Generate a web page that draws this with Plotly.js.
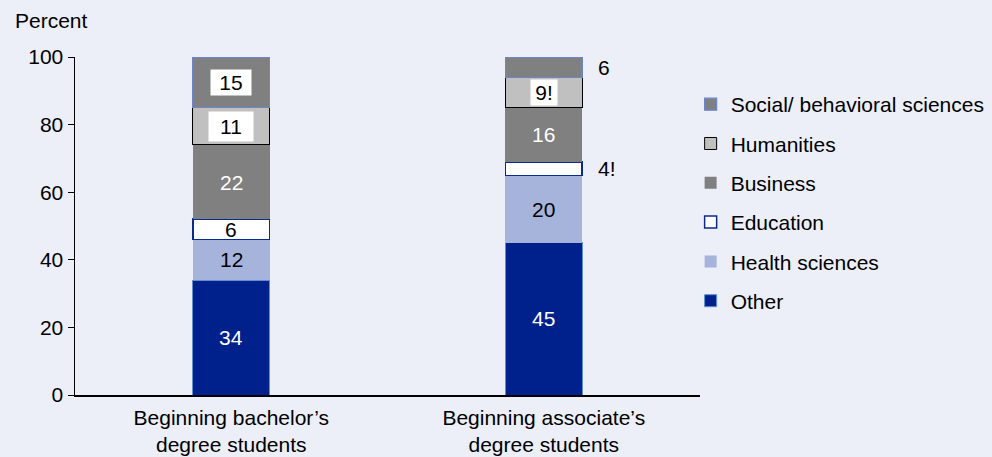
<!DOCTYPE html>
<html><head><meta charset="utf-8">
<script src="https://cdn.plot.ly/plotly-3.0.1.min.js"></script>
<style>html,body{margin:0;padding:0;background:#eceef8;}</style>
</head><body><div id="chart" style="width:992px;height:457px;"></div>
<script>
const categories = ["Beginning bachelor’s<br>degree students", "Beginning associate’s<br>degree students"];
const seriesNames = ["Other", "Health sciences", "Education", "Business", "Humanities", "Social/ behavioral sciences"];
const other = [34, 45];
const health = [12, 20];
const education = [6, 4];
const business = [22, 16];
const humanities = [11, 9];
const social = [15, 6];
const labelsOther = ["34", "45"];
const labelsHealth = ["12", "20"];
const labelsEducation = ["6", "4!"];
const labelsBusiness = ["22", "16"];
const labelsHumanities = ["11", "9!"];
const labelsSocial = ["15", "6"];
const yTicks = [0, 20, 40, 60, 80, 100];

const FONT = "Liberation Sans, Arial, sans-serif";
const FS = 21;
const seriesVals = [other, health, education, business, humanities, social];
const seriesLabels = [labelsOther, labelsHealth, labelsEducation, labelsBusiness, labelsHumanities, labelsSocial];
const fills = ["#00208c", "#a6b4dc", "#ffffff", "#808080", "#c0c0c0", "#808080"];
const lines = ["#5b8fd0", "#a6b4dc", "#0a2a8c", "#808080", "#000000", "#6b86cf"];
const lineW = [1, 0, 1.5, 0, 1, 1.2];
const textCol = ["#ffffff", "#000000", "#000000", "#ffffff", "#000000", "#000000"];

const traces = seriesVals.map((v, i) => ({
  type: "bar", x: [0, 1], y: v, name: seriesNames[i],
  marker: {color: fills[i], line: {color: lines[i], width: lineW[i]}},
  width: 0.246, legendgroup: "g" + i, legendrank: 10 - i, hoverinfo: "skip"
}));

const annotations = [];
const cum = [0, 0];
seriesVals.forEach((v, i) => {
  v.forEach((val, j) => {
    const mid = cum[j] + val / 2;
    const small = val < 5 || (i === 5 && j === 1);
    const boxed = (i === 4) || (i === 5 && j === 0);
    annotations.push({
      x: j, y: mid, xref: "x", yref: "y", text: seriesLabels[i][j], showarrow: false,
      xanchor: small ? "left" : "center", xshift: small ? 53 : 0,
      font: {color: small ? "#000000" : textCol[i], size: FS, family: FONT},
      bgcolor: boxed ? "#ffffff" : "rgba(0,0,0,0)",
      borderpad: boxed ? (i === 4 && j === 0 ? 3 : 1) : 0,
      width: boxed ? (j === 0 ? 38 : 24) : undefined
    });
    cum[j] += val;
  });
});
annotations.push({xref: "paper", yref: "paper", x: -0.1, y: 1, yshift: 37, xanchor: "left", yanchor: "middle",
  text: "Percent", showarrow: false, font: {size: FS, color: "#000", family: FONT}});

const layout = {
  width: 992, height: 457, barmode: "stack",
  paper_bgcolor: "#eceef8", plot_bgcolor: "#eceef8",
  margin: {l: 75, r: 292, t: 57, b: 62, autoexpand: false},
  font: {family: FONT, size: FS, color: "#000"},
  showlegend: true,
  legend: {x: 0.985, xanchor: "left", y: 0.92, yanchor: "top", traceorder: "grouped",
    tracegroupgap: 9, font: {size: FS}, itemwidth: 30, bgcolor: "rgba(0,0,0,0)"},
  xaxis: {range: [-0.5, 1.5], tickvals: [0, 1], ticktext: categories, showline: true,
    linecolor: "#000", linewidth: 1.5, ticks: "", showgrid: false, zeroline: false, fixedrange: true,
    ticklabelstandoff: 3},
  yaxis: {range: [0, 100], tickvals: yTicks, showline: true, linecolor: "#000", linewidth: 1.5,
    ticks: "outside", ticklen: 6, tickcolor: "#000", showgrid: false, zeroline: false, fixedrange: true},
  annotations: annotations
};
Plotly.newPlot("chart", traces, layout, {displayModeBar: false, staticPlot: true});
</script></body></html>
